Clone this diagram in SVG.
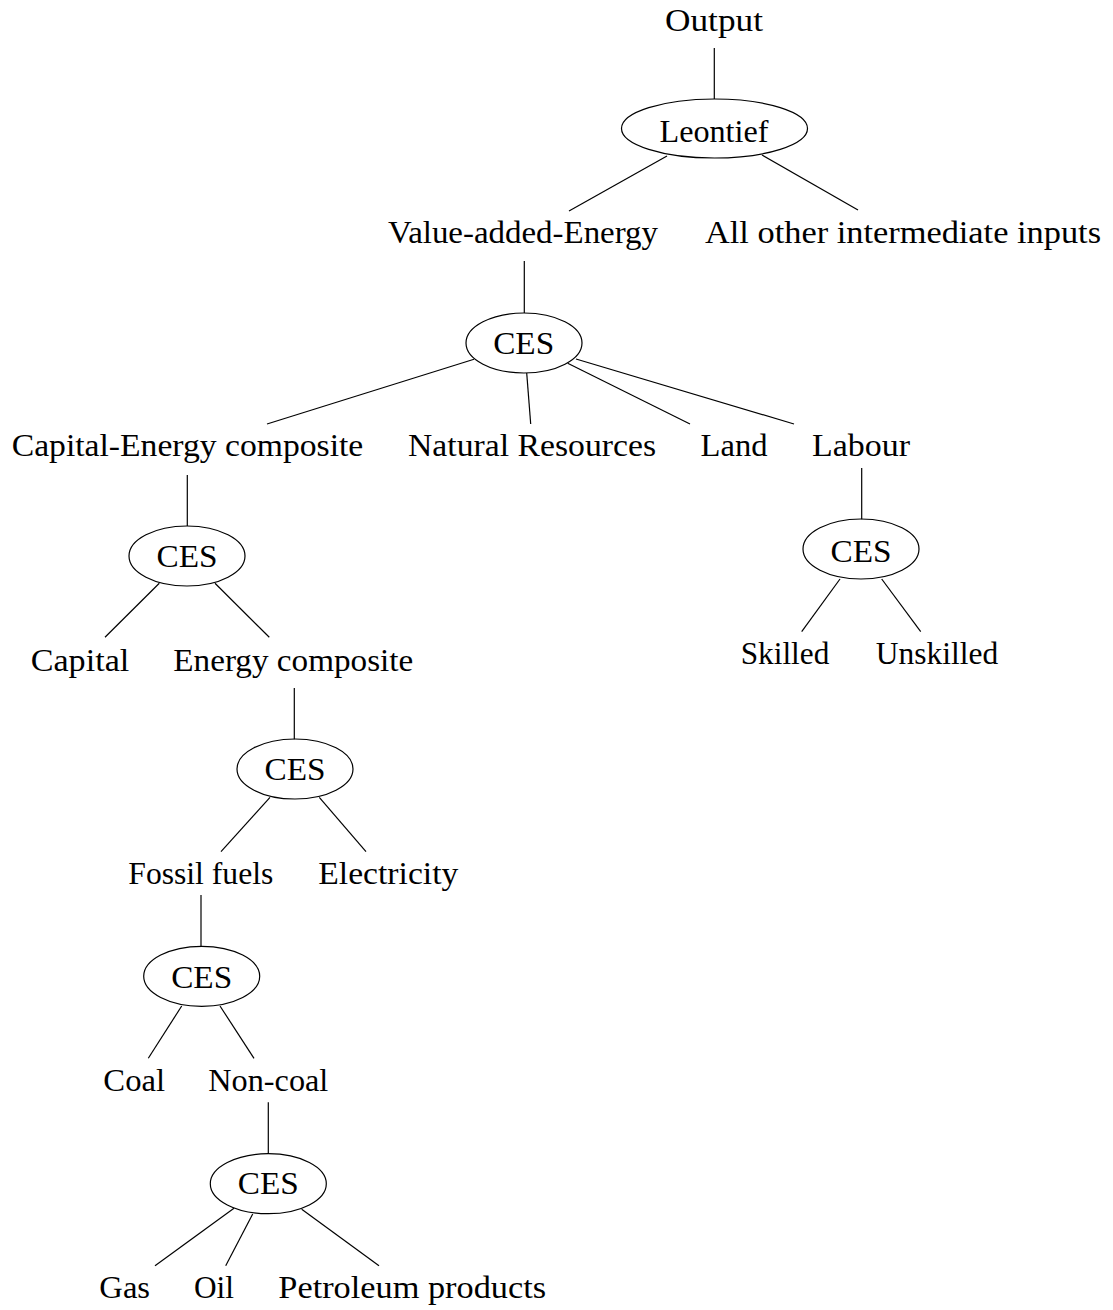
<svg xmlns="http://www.w3.org/2000/svg" width="1113" height="1310" viewBox="0 0 1113 1310">
<style>
text{font-family:"Liberation Serif","Times New Roman",serif;font-size:32px;fill:#000;text-anchor:middle}
ellipse{fill:none;stroke:#000;stroke-width:1.2}
line{stroke:#000;stroke-width:1.2}
</style>
<rect width="1113" height="1310" fill="#fff"/>
<g id="connectors">
<line x1="714.3" y1="48" x2="714.3" y2="99"/>
<line x1="667" y1="156" x2="569" y2="211"/>
<line x1="762" y1="155" x2="858" y2="210"/>
<line x1="524.3" y1="261" x2="524.3" y2="313"/>
<line x1="474" y1="359.3" x2="267" y2="424"/>
<line x1="526.7" y1="373" x2="530.7" y2="424"/>
<line x1="567.7" y1="363.3" x2="690" y2="424"/>
<line x1="576" y1="359" x2="794" y2="424"/>
<line x1="187.3" y1="475" x2="187.3" y2="526"/>
<line x1="159.3" y1="583.3" x2="105" y2="637.3"/>
<line x1="215" y1="583.3" x2="269.3" y2="637.3"/>
<line x1="861.7" y1="468" x2="861.7" y2="519.3"/>
<line x1="840" y1="579" x2="801.7" y2="631.7"/>
<line x1="881.7" y1="579" x2="920.7" y2="631.7"/>
<line x1="294.3" y1="688" x2="294.3" y2="739.3"/>
<line x1="270" y1="797.3" x2="221" y2="851.7"/>
<line x1="319.3" y1="797.3" x2="366" y2="851.7"/>
<line x1="201" y1="895" x2="201" y2="946"/>
<line x1="181.7" y1="1006" x2="148.3" y2="1058.3"/>
<line x1="220" y1="1006" x2="254" y2="1058.3"/>
<line x1="268.3" y1="1102.3" x2="268.3" y2="1153.3"/>
<line x1="234" y1="1208.3" x2="155" y2="1265.7"/>
<line x1="252.7" y1="1214" x2="225.7" y2="1265.7"/>
<line x1="301.7" y1="1209.3" x2="379" y2="1265.7"/>
</g>
<g id="output"><text x="714" y="31" textLength="98" lengthAdjust="spacingAndGlyphs">Output</text></g>
<g id="leontief"><ellipse cx="714.5" cy="128.5" rx="93" ry="29.5"/><text x="714" y="141.5" textLength="109" lengthAdjust="spacingAndGlyphs">Leontief</text></g>
<g id="vae"><text x="523" y="243" textLength="270" lengthAdjust="spacingAndGlyphs">Value-added-Energy</text></g>
<g id="other"><text x="903" y="243" textLength="396" lengthAdjust="spacingAndGlyphs">All other intermediate inputs</text></g>
<g id="ces1"><ellipse cx="524" cy="343" rx="58" ry="30"/><text x="523.7" y="354" textLength="61" lengthAdjust="spacingAndGlyphs">CES</text></g>
<g id="capen"><text x="187.5" y="456" textLength="351.6" lengthAdjust="spacingAndGlyphs">Capital-Energy composite</text></g>
<g id="natres"><text x="532" y="456" textLength="248" lengthAdjust="spacingAndGlyphs">Natural Resources</text></g>
<g id="land"><text x="734" y="456" textLength="67" lengthAdjust="spacingAndGlyphs">Land</text></g>
<g id="labour"><text x="861" y="456" textLength="98" lengthAdjust="spacingAndGlyphs">Labour</text></g>
<g id="ces2"><ellipse cx="187" cy="556" rx="58" ry="30"/><text x="187" y="566.7" textLength="61" lengthAdjust="spacingAndGlyphs">CES</text></g>
<g id="capital"><text x="80" y="670.7" textLength="98.6" lengthAdjust="spacingAndGlyphs">Capital</text></g>
<g id="energy"><text x="293.3" y="670.7" textLength="240" lengthAdjust="spacingAndGlyphs">Energy composite</text></g>
<g id="ces3"><ellipse cx="861" cy="549" rx="58" ry="30"/><text x="861" y="561.7" textLength="61" lengthAdjust="spacingAndGlyphs">CES</text></g>
<g id="skilled"><text x="785" y="664" textLength="88.6" lengthAdjust="spacingAndGlyphs">Skilled</text></g>
<g id="unskilled"><text x="937" y="664" textLength="122.3" lengthAdjust="spacingAndGlyphs">Unskilled</text></g>
<g id="ces4"><ellipse cx="295" cy="769" rx="58" ry="30"/><text x="295" y="780" textLength="61" lengthAdjust="spacingAndGlyphs">CES</text></g>
<g id="fossil"><text x="200.8" y="884" textLength="145" lengthAdjust="spacingAndGlyphs">Fossil fuels</text></g>
<g id="electricity"><text x="388.3" y="884" textLength="140" lengthAdjust="spacingAndGlyphs">Electricity</text></g>
<g id="ces5"><ellipse cx="201.7" cy="976.3" rx="58" ry="30"/><text x="201.7" y="987.5" textLength="61" lengthAdjust="spacingAndGlyphs">CES</text></g>
<g id="coal"><text x="134.2" y="1091" textLength="61.7" lengthAdjust="spacingAndGlyphs">Coal</text></g>
<g id="noncoal"><text x="268.3" y="1091" textLength="120" lengthAdjust="spacingAndGlyphs">Non-coal</text></g>
<g id="ces6"><ellipse cx="268.3" cy="1183.7" rx="58" ry="30"/><text x="268.3" y="1194.3" textLength="61" lengthAdjust="spacingAndGlyphs">CES</text></g>
<g id="gas"><text x="124.7" y="1298.3" textLength="50.7" lengthAdjust="spacingAndGlyphs">Gas</text></g>
<g id="oil"><text x="214" y="1298.3" textLength="40" lengthAdjust="spacingAndGlyphs">Oil</text></g>
<g id="petroleum"><text x="412.2" y="1298.3" textLength="267.7" lengthAdjust="spacingAndGlyphs">Petroleum products</text></g>
</svg>
